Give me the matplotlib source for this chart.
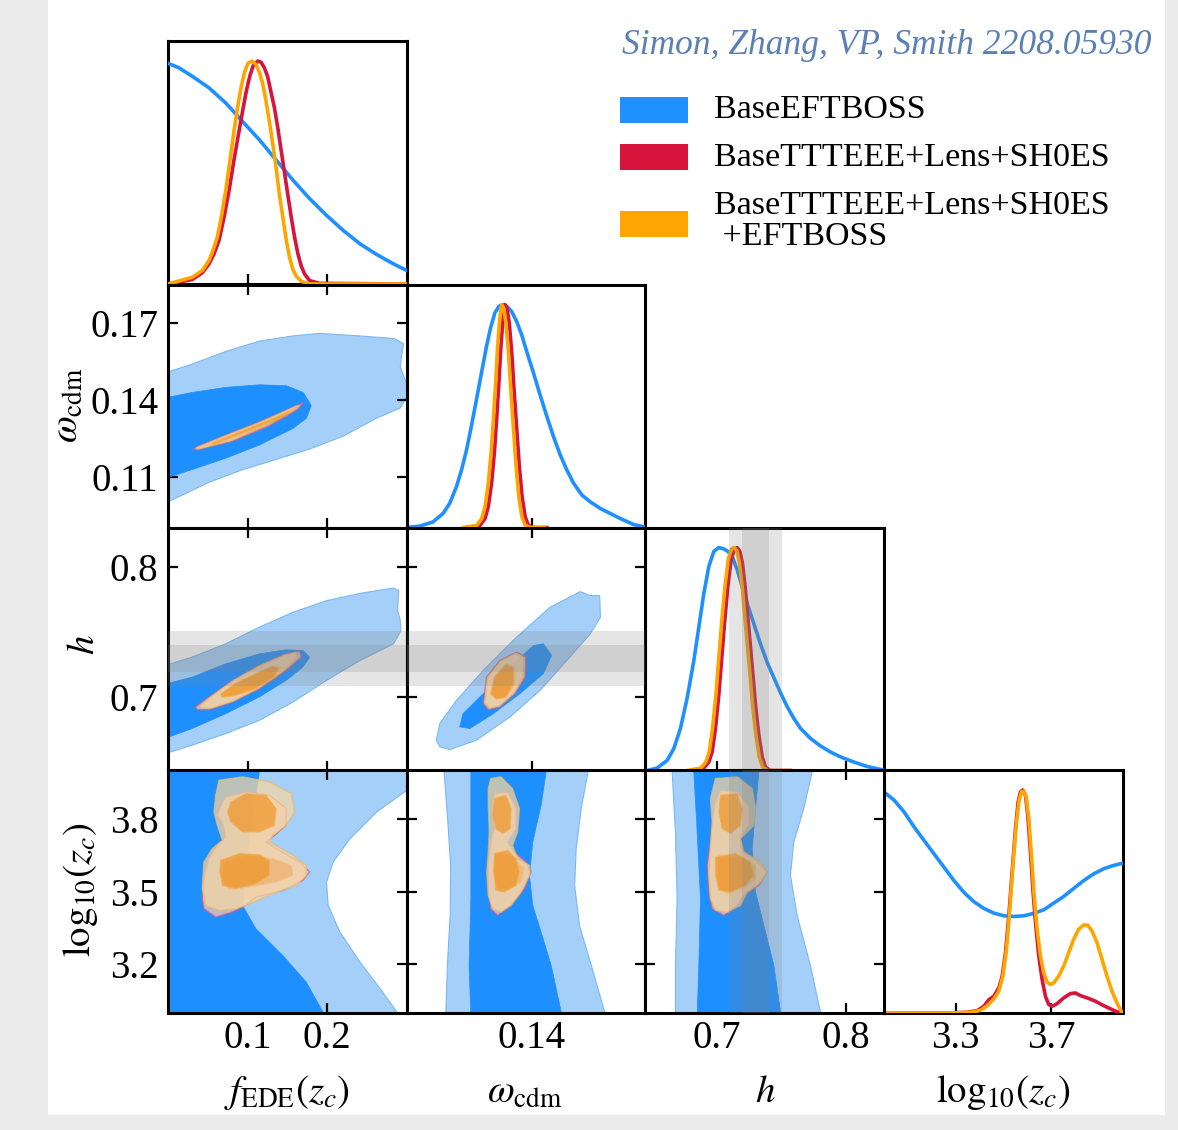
import matplotlib
matplotlib.use('Agg')
import matplotlib.pyplot as plt
from matplotlib.patches import Rectangle

plt.rcParams['font.family'] = 'Liberation Serif'
plt.rcParams['mathtext.fontset'] = 'stix'

# ---------------- data ----------------
names = ['fede', 'wcdm', 'h', 'zc']
axis_labels = [r'$f_{\rm EDE}(z_c)$', r'$\omega_{\rm cdm}$', r'$h$', r'$\mathrm{log}_{10}(z_c)$']
limits = [(0.0, 0.3), (0.0905, 0.185), (0.644, 0.83), (3.0, 4.0)]
xtick_vals = [[0.1, 0.2], [0.14], [0.7, 0.8], [3.3, 3.7]]
xtick_txt = [['0.1', '0.2'], ['0.14'], ['0.7', '0.8'], ['3.3', '3.7']]
ytick_vals = [[], [0.11, 0.14, 0.17], [0.7, 0.8], [3.2, 3.5, 3.8]]
ytick_txt = [[], ['0.11', '0.14', '0.17'], ['0.7', '0.8'], ['3.2', '3.5', '3.8']]

legend_labels = ['BaseEFTBOSS', 'BaseTTTEEE+Lens+SH0ES', 'BaseTTTEEE+Lens+SH0ES\n +EFTBOSS']
credit = 'Simon, Zhang, VP, Smith 2208.05930'

# SH0ES prior on h (mean, 1 sigma)
shoes_h = 0.7298
shoes_sig = 0.0104

# 1D marginals (x, normalised density)
fede_blue = [(0.0, 0.99), (0.0135, 0.97), (0.0304, 0.932), (0.0515, 0.88), (0.0726, 0.812), (0.0937, 0.729),
             (0.1148, 0.647), (0.1359, 0.556), (0.157, 0.466), (0.178, 0.383), (0.1992, 0.308),
             (0.2203, 0.24), (0.2414, 0.18), (0.2624, 0.132), (0.2835, 0.09), (0.3004, 0.06)]
fede_red = [(0.0, 0.0), (0.0304, 0.02), (0.043, 0.05), (0.0515, 0.09), (0.0578, 0.135), (0.0641, 0.195),
            (0.0705, 0.30), (0.0768, 0.42), (0.0831, 0.56), (0.0895, 0.69), (0.0945, 0.79), (0.0987, 0.87),
            (0.103, 0.935), (0.1072, 0.98), (0.1127, 1.0), (0.1169, 0.995), (0.1211, 0.97), (0.1253, 0.93),
            (0.1295, 0.86), (0.1338, 0.79), (0.138, 0.70), (0.1422, 0.60), (0.1464, 0.50), (0.1506, 0.40),
            (0.1549, 0.30), (0.1591, 0.21), (0.1633, 0.135), (0.1675, 0.08), (0.1717, 0.045),
            (0.178, 0.015), (0.1907, 0.003), (0.3, 0.0)]
fede_orange = [(0.0, 0.0), (0.0304, 0.03), (0.043, 0.06), (0.0515, 0.105), (0.0565, 0.15), (0.062, 0.21),
               (0.0675, 0.31), (0.0726, 0.42), (0.0781, 0.56), (0.0831, 0.69), (0.0878, 0.80), (0.092, 0.885),
               (0.0962, 0.95), (0.1004, 0.99), (0.1055, 1.0), (0.1105, 0.985), (0.1148, 0.95), (0.119, 0.90),
               (0.1232, 0.82), (0.1274, 0.73), (0.1316, 0.63), (0.1359, 0.52), (0.1401, 0.40),
               (0.1443, 0.30), (0.1485, 0.20), (0.1527, 0.12), (0.157, 0.065), (0.1612, 0.035),
               (0.1675, 0.012), (0.178, 0.0), (0.3, 0.0)]

wcdm_blue = [(0.0903, 0.0), (0.0956, 0.006), (0.1009, 0.025), (0.1049, 0.063), (0.1075, 0.108),
             (0.1102, 0.183), (0.1122, 0.258), (0.1142, 0.348), (0.1162, 0.46), (0.1181, 0.573),
             (0.1201, 0.693), (0.1221, 0.813), (0.1237, 0.895), (0.1254, 0.963), (0.1271, 0.993),
             (0.1287, 1.0), (0.1303, 0.99), (0.132, 0.97), (0.134, 0.925), (0.136, 0.865), (0.138, 0.79),
             (0.1407, 0.693), (0.1433, 0.595), (0.146, 0.498), (0.1486, 0.408), (0.1513, 0.325),
             (0.1539, 0.258), (0.1566, 0.198), (0.1599, 0.145), (0.1632, 0.115), (0.1672, 0.085),
             (0.1711, 0.063), (0.1751, 0.04), (0.1804, 0.013), (0.1857, 0.0)]
wcdm_red = [(0.1142, 0.0), (0.1195, 0.009), (0.1215, 0.04), (0.1228, 0.093), (0.1241, 0.198),
            (0.1252, 0.333), (0.1261, 0.483), (0.127, 0.648), (0.1278, 0.813), (0.1286, 0.933),
            (0.1294, 1.0), (0.1302, 0.985), (0.1311, 0.918), (0.1321, 0.783), (0.133, 0.618), (0.134, 0.453),
            (0.1351, 0.273), (0.1362, 0.138), (0.1374, 0.048), (0.1387, 0.01), (0.1407, 0.0), (0.146, 0.0)]
wcdm_orange = [(0.1129, 0.0), (0.1182, 0.009), (0.1202, 0.04), (0.1215, 0.093), (0.1228, 0.198),
               (0.1239, 0.333), (0.1248, 0.483), (0.1257, 0.648), (0.1265, 0.813), (0.1273, 0.933),
               (0.1281, 1.0), (0.1289, 0.985), (0.1298, 0.918), (0.1308, 0.783), (0.1317, 0.618),
               (0.1327, 0.453), (0.1338, 0.273), (0.1349, 0.138), (0.1361, 0.048), (0.1374, 0.01),
               (0.1394, 0.0), (0.145, 0.0)]

h_blue = [(0.6455, 0.0), (0.6532, 0.011), (0.661, 0.045), (0.6662, 0.098), (0.6714, 0.189), (0.6766, 0.325),
          (0.6818, 0.492), (0.6857, 0.643), (0.6896, 0.794), (0.6935, 0.915), (0.6974, 0.983),
          (0.7013, 1.0), (0.7052, 0.994), (0.7083, 0.983), (0.7117, 0.961), (0.7156, 0.90), (0.7195, 0.824),
          (0.7234, 0.749), (0.7286, 0.658), (0.7338, 0.567), (0.739, 0.484), (0.7442, 0.416),
          (0.7494, 0.348), (0.7545, 0.287), (0.7597, 0.234), (0.7649, 0.189), (0.7727, 0.144),
          (0.7805, 0.11), (0.7883, 0.083), (0.7961, 0.061), (0.8065, 0.038), (0.8169, 0.018),
          (0.8273, 0.005), (0.8312, 0.0)]
h_red = [(0.6792, 0.0), (0.6896, 0.011), (0.6935, 0.038), (0.6961, 0.083), (0.6987, 0.189), (0.7013, 0.34),
         (0.7034, 0.492), (0.7057, 0.658), (0.7083, 0.824), (0.7109, 0.946), (0.7135, 0.994), (0.7156, 1.0),
         (0.7177, 0.983), (0.7197, 0.93), (0.7218, 0.824), (0.7239, 0.688), (0.726, 0.552), (0.7281, 0.416),
         (0.7301, 0.28), (0.7325, 0.159), (0.7351, 0.061), (0.7377, 0.015), (0.7416, 0.0), (0.7571, 0.0)]
h_orange = [(0.6769, 0.0), (0.6873, 0.011), (0.6912, 0.038), (0.6938, 0.083), (0.6964, 0.189),
            (0.699, 0.34), (0.7011, 0.492), (0.7034, 0.658), (0.706, 0.824), (0.7086, 0.946),
            (0.7112, 0.994), (0.7133, 1.0), (0.7154, 0.983), (0.7174, 0.93), (0.7195, 0.824),
            (0.7216, 0.688), (0.7237, 0.552), (0.7258, 0.416), (0.7278, 0.28), (0.7302, 0.159),
            (0.7328, 0.061), (0.7354, 0.015), (0.7393, 0.0), (0.755, 0.0)]

zc_blue = [(3.0, 0.99), (3.0073, 0.985), (3.0422, 0.955), (3.084, 0.902), (3.1258, 0.835), (3.1676, 0.774),
           (3.2094, 0.714), (3.2512, 0.654), (3.293, 0.594), (3.3348, 0.541), (3.3767, 0.499),
           (3.4185, 0.469), (3.4603, 0.448), (3.5021, 0.436), (3.5439, 0.433), (3.5857, 0.436),
           (3.6275, 0.447), (3.6693, 0.463), (3.7111, 0.493), (3.753, 0.523), (3.7948, 0.559),
           (3.8366, 0.594), (3.8784, 0.624), (3.9202, 0.647), (3.962, 0.662), (4.0, 0.672)]
zc_red = [(3.0, 0.0), (3.2652, 0.0), (3.3488, 0.003), (3.3906, 0.011), (3.4185, 0.03), (3.4394, 0.06),
          (3.4603, 0.075), (3.4812, 0.113), (3.4951, 0.165), (3.5091, 0.271), (3.523, 0.436),
          (3.5369, 0.632), (3.5509, 0.827), (3.562, 0.947), (3.5718, 0.992), (3.5815, 1.0), (3.5927, 0.977),
          (3.6024, 0.887), (3.6136, 0.722), (3.6247, 0.541), (3.6359, 0.391), (3.6484, 0.256),
          (3.6624, 0.15), (3.6763, 0.075), (3.6902, 0.038), (3.7042, 0.03), (3.7251, 0.042),
          (3.753, 0.068), (3.7808, 0.087), (3.8017, 0.09), (3.8226, 0.078), (3.8505, 0.068),
          (3.8854, 0.053), (3.9202, 0.033), (3.962, 0.012), (3.9899, 0.0), (4.0, 0.0)]
zc_orange = [(3.0, 0.0), (3.2652, 0.0), (3.3627, 0.003), (3.4045, 0.012), (3.4324, 0.033), (3.4603, 0.063),
             (3.4812, 0.098), (3.4979, 0.165), (3.5132, 0.286), (3.5272, 0.466), (3.5411, 0.677),
             (3.555, 0.857), (3.5662, 0.955), (3.576, 0.992), (3.5857, 0.995), (3.5955, 0.97),
             (3.6066, 0.872), (3.6178, 0.707), (3.6289, 0.526), (3.6415, 0.376), (3.6554, 0.256),
             (3.6693, 0.18), (3.6833, 0.138), (3.6972, 0.128), (3.7111, 0.135), (3.732, 0.165),
             (3.753, 0.211), (3.7739, 0.271), (3.7948, 0.331), (3.8157, 0.376), (3.8366, 0.395),
             (3.8533, 0.394), (3.8714, 0.368), (3.8923, 0.316), (3.9132, 0.241), (3.9341, 0.165),
             (3.955, 0.098), (3.9759, 0.045), (3.9969, 0.003)]

# 2D contour outlines (x, y) -- 95% ("2") and 68% ("1") regions
fw_blue2 = [(-0.01, 0.150), (0.030, 0.154), (0.073, 0.159), (0.115, 0.163), (0.157, 0.165), (0.191, 0.166),
            (0.241, 0.165), (0.284, 0.164), (0.296, 0.162), (0.293, 0.156), (0.292, 0.153), (0.298, 0.148),
            (0.305, 0.144), (0.292, 0.137), (0.262, 0.133), (0.220, 0.126), (0.178, 0.121), (0.136, 0.117),
            (0.094, 0.113), (0.051, 0.108), (-0.01, 0.099)]
fw_blue1 = [(-0.01, 0.1405), (0.030, 0.143), (0.073, 0.145), (0.115, 0.146), (0.149, 0.1456), (0.170, 0.143),
            (0.180, 0.138), (0.174, 0.133), (0.157, 0.129), (0.115, 0.1226), (0.073, 0.1175), (0.030, 0.113),
            (-0.01, 0.109)]
fw_red2 = [(0.0325, 0.1213), (0.0726, 0.1264), (0.1148, 0.1315), (0.157, 0.1373), (0.170, 0.139),
           (0.163, 0.1364), (0.127, 0.130), (0.081, 0.124), (0.0346, 0.1206)]
fw_red1 = [(0.047, 0.1226), (0.0937, 0.1283), (0.140, 0.134), (0.161, 0.1373), (0.149, 0.134),
           (0.102, 0.1274), (0.0515, 0.1223)]
fw_orange2 = [(0.036, 0.1216), (0.075, 0.1265), (0.115, 0.1313), (0.152, 0.1364), (0.163, 0.138),
              (0.156, 0.1358), (0.122, 0.1302), (0.080, 0.1245), (0.038, 0.121)]
fw_orange1 = [(0.055, 0.1232), (0.095, 0.1282), (0.135, 0.1333), (0.152, 0.1357), (0.14, 0.1330),
              (0.1, 0.128), (0.058, 0.1228)]

fh_blue2 = [(-0.01, 0.7232), (0.0304, 0.7308), (0.0726, 0.741), (0.1148, 0.7537), (0.157, 0.7651),
            (0.1992, 0.774), (0.2414, 0.7796), (0.2835, 0.7837), (0.2899, 0.7817), (0.2886, 0.7664),
            (0.292, 0.7588), (0.2928, 0.7511), (0.2835, 0.741), (0.2414, 0.7282), (0.1992, 0.713),
            (0.157, 0.6964), (0.1148, 0.6824), (0.0726, 0.6723), (0.0304, 0.6634), (-0.01, 0.6557)]
fh_blue1 = [(-0.01, 0.7092), (0.0304, 0.7155), (0.0726, 0.7257), (0.1148, 0.7333), (0.1485, 0.7364),
            (0.1696, 0.7359), (0.178, 0.7308), (0.1696, 0.7232), (0.1485, 0.713), (0.1148, 0.7003),
            (0.0726, 0.6875), (0.0304, 0.6761), (-0.01, 0.6672)]
fh_red2 = [(0.0346, 0.6926), (0.0515, 0.7003), (0.081, 0.713), (0.1148, 0.7244), (0.1485, 0.7333),
           (0.1654, 0.7354), (0.1675, 0.7308), (0.1485, 0.7206), (0.1148, 0.7066), (0.081, 0.6964),
           (0.0515, 0.6906), (0.0367, 0.6906)]
fh_red1 = [(0.0684, 0.7028), (0.0852, 0.7104), (0.1105, 0.7181), (0.1338, 0.7244), (0.1422, 0.7232),
           (0.1359, 0.7155), (0.1105, 0.7066), (0.0852, 0.7015), (0.0705, 0.7003)]
fh_orange2 = [(0.040, 0.6935), (0.055, 0.7008), (0.082, 0.7128), (0.114, 0.7238), (0.146, 0.7323),
              (0.161, 0.7343), (0.162, 0.7305), (0.146, 0.7208), (0.114, 0.7072), (0.082, 0.6972),
              (0.055, 0.6918), (0.042, 0.6918)]
fh_orange1 = [(0.066, 0.7025), (0.083, 0.7100), (0.108, 0.7176), (0.131, 0.7238), (0.139, 0.7226),
              (0.133, 0.7150), (0.108, 0.7062), (0.083, 0.7012), (0.068, 0.7000)]

wh_blue2 = [(0.1022, 0.6672), (0.1036, 0.6799), (0.1102, 0.6977), (0.1208, 0.7206), (0.134, 0.7461),
            (0.1473, 0.769), (0.1592, 0.7809), (0.1632, 0.7779), (0.1669, 0.7779), (0.1672, 0.7613),
            (0.1632, 0.7486), (0.1539, 0.7282), (0.1433, 0.7053), (0.1314, 0.685), (0.1181, 0.6672),
            (0.1075, 0.66), (0.1036, 0.6621)]
wh_blue1 = [(0.1115, 0.6774), (0.1128, 0.6875), (0.1221, 0.7053), (0.1314, 0.7232), (0.1407, 0.7397),
            (0.1446, 0.741), (0.1479, 0.7321), (0.1446, 0.7181), (0.1353, 0.7028), (0.1248, 0.6875),
            (0.1155, 0.6761)]
wh_red2 = [(0.1208, 0.6952), (0.1221, 0.7155), (0.1274, 0.7282), (0.134, 0.7346), (0.1377, 0.7308),
           (0.1374, 0.7155), (0.1334, 0.7028), (0.1274, 0.6926), (0.1228, 0.6906)]
wh_red1 = [(0.1241, 0.7028), (0.1254, 0.7155), (0.1301, 0.7257), (0.1334, 0.7232), (0.1334, 0.7104),
           (0.1301, 0.7003), (0.1261, 0.699)]
wh_orange2 = [(0.1215, 0.6960), (0.1226, 0.7150), (0.1275, 0.7272), (0.1335, 0.7335), (0.1368, 0.7300),
              (0.1366, 0.7155), (0.1328, 0.7032), (0.1272, 0.6936), (0.1232, 0.6918)]
wh_orange1 = [(0.1238, 0.7025), (0.1250, 0.7150), (0.1296, 0.7250), (0.1328, 0.7226), (0.1328, 0.7100),
              (0.1296, 0.7000), (0.1258, 0.6988)]

fz_blue2 = [(-0.01, 4.01), (0.31, 4.01), (0.31, 3.9168), (0.3004, 3.9168), (0.2624, 3.8275), (0.2287, 3.717),
            (0.2076, 3.6214), (0.1992, 3.539), (0.2013, 3.443), (0.216, 3.333), (0.2414, 3.209),
            (0.2667, 3.0995), (0.2878, 3.0033), (0.29, 2.99), (-0.01, 2.99)]
fz_blue1 = [(-0.01, 4.01), (0.1148, 4.01), (0.1148, 3.992), (0.1063, 3.8137), (0.0979, 3.6077),
            (0.0937, 3.4429), (0.1105, 3.3467), (0.1443, 3.2368), (0.1738, 3.1269), (0.1949, 3.0033),
            (0.196, 2.99), (-0.01, 2.99)]
fz_red2 = [(0.0726, 3.8893), (0.0979, 3.9099), (0.1274, 3.8962), (0.1485, 3.8412), (0.1485, 3.7725),
           (0.1316, 3.7245), (0.1232, 3.7038), (0.1359, 3.6764), (0.1654, 3.6214), (0.178, 3.5802),
           (0.1696, 3.5459), (0.1443, 3.5047), (0.1105, 3.4772), (0.0979, 3.4429), (0.081, 3.4154),
           (0.0599, 3.3948), (0.0451, 3.4291), (0.043, 3.4703), (0.0451, 3.5527), (0.0515, 3.6352),
           (0.062, 3.6901), (0.0726, 3.7245), (0.0684, 3.7863), (0.062, 3.8137), (0.0684, 3.8687)]
fz_red1 = [(0.0726, 3.6214), (0.0979, 3.6489), (0.1316, 3.6352), (0.1549, 3.6077), (0.157, 3.5665),
           (0.1359, 3.539), (0.1021, 3.5184), (0.0768, 3.5088), (0.0684, 3.5459), (0.0692, 3.594)]
fz_orange2 = [(0.0641, 3.958), (0.0937, 3.9717), (0.1274, 3.9511), (0.1549, 3.903), (0.1591, 3.8275),
              (0.1485, 3.7725), (0.1316, 3.7313), (0.1274, 3.7038), (0.157, 3.6489), (0.1738, 3.6077),
              (0.1738, 3.5665), (0.1612, 3.5253), (0.1316, 3.4909), (0.0979, 3.4429), (0.0852, 3.4291),
              (0.0641, 3.4223), (0.0473, 3.4429), (0.043, 3.5115), (0.0451, 3.6214), (0.0557, 3.6764),
              (0.0684, 3.7107), (0.062, 3.7725), (0.0578, 3.8275), (0.0599, 3.8962)]
fz_orange1a = [(0.0789, 3.8687), (0.0979, 3.903), (0.1232, 3.8962), (0.1359, 3.8412), (0.1338, 3.7725),
               (0.1148, 3.7451), (0.0937, 3.7451), (0.0789, 3.7863), (0.0747, 3.8275)]
fz_orange1b = [(0.0662, 3.6283), (0.0895, 3.6558), (0.1148, 3.6516), (0.1274, 3.6283), (0.1274, 3.5665),
               (0.1105, 3.5321), (0.0852, 3.5115), (0.0684, 3.5253), (0.065, 3.5802)]

wz_blue2 = [(0.1053, 4.01), (0.1053, 3.9923), (0.1066, 3.8137), (0.1079, 3.6077), (0.1077, 3.4016),
            (0.1066, 3.1956), (0.106, 3.0033), (0.106, 2.99), (0.1689, 2.99), (0.1689, 3.0033),
            (0.1636, 3.1956), (0.1589, 3.3604), (0.157, 3.5253), (0.1576, 3.6764), (0.1596, 3.8412),
            (0.1623, 3.9923), (0.1623, 4.01)]
wz_blue1 = [(0.1159, 4.01), (0.1159, 3.7451), (0.1159, 3.4703), (0.1152, 3.1956), (0.1159, 2.99),
            (0.1517, 2.99), (0.1517, 3.0033), (0.1477, 3.1956), (0.1437, 3.333), (0.1404, 3.4429),
            (0.1391, 3.5665), (0.1404, 3.7038), (0.1437, 3.8549), (0.1457, 3.9923), (0.1457, 4.01)]
wz_red2 = [(0.1252, 3.903), (0.1305, 3.9099), (0.1338, 3.8412), (0.1338, 3.7588), (0.1305, 3.7038),
           (0.1331, 3.6626), (0.1377, 3.6214), (0.1397, 3.5802), (0.1371, 3.5115), (0.1318, 3.4429),
           (0.1265, 3.4016), (0.1238, 3.4291), (0.1228, 3.4978), (0.1228, 3.6077), (0.1238, 3.7038),
           (0.1252, 3.7588), (0.1245, 3.8412)]
wz_red1 = [(0.1258, 3.6626), (0.1318, 3.6489), (0.1371, 3.594), (0.1358, 3.539), (0.1305, 3.5047),
           (0.1265, 3.5115), (0.1252, 3.5802)]
wz_orange2 = [(0.1238, 3.9648), (0.1278, 3.9717), (0.1324, 3.9236), (0.1351, 3.8412), (0.1344, 3.7451),
              (0.1324, 3.6901), (0.1344, 3.6352), (0.1391, 3.6077), (0.1391, 3.5665), (0.1358, 3.4978),
              (0.1318, 3.4429), (0.1278, 3.4154), (0.1245, 3.4291), (0.1228, 3.4841), (0.1222, 3.5802),
              (0.1228, 3.6626), (0.1232, 3.7451), (0.1228, 3.8549), (0.1228, 3.9236)]
wz_orange1a = [(0.1252, 3.8824), (0.1298, 3.8962), (0.1318, 3.8412), (0.1315, 3.7588), (0.1285, 3.7382),
               (0.1258, 3.7588), (0.1245, 3.8137)]
wz_orange1b = [(0.1252, 3.6558), (0.1305, 3.6695), (0.1338, 3.6352), (0.1351, 3.5802), (0.1338, 3.5253),
               (0.1291, 3.4978), (0.1258, 3.5047), (0.1249, 3.5802)]

hz_blue2 = [(0.6649, 4.01), (0.6649, 3.9923), (0.6675, 3.7451), (0.6688, 3.4703), (0.6675, 3.1956),
            (0.6675, 2.99), (0.7805, 2.99), (0.7805, 3.0033), (0.7727, 3.1956), (0.7623, 3.4016),
            (0.7571, 3.5665), (0.7597, 3.7038), (0.7675, 3.8412), (0.774, 3.9923), (0.774, 4.01)]
hz_blue1 = [(0.6818, 4.01), (0.6818, 3.9923), (0.6844, 3.7451), (0.687, 3.4703), (0.6857, 3.1956),
            (0.6844, 2.99), (0.7494, 2.99), (0.7494, 3.0033), (0.7442, 3.1956), (0.7364, 3.3604),
            (0.7299, 3.4978), (0.7273, 3.6764), (0.7299, 3.8412), (0.7325, 3.9923), (0.7325, 4.01)]
hz_red2 = [(0.7026, 3.9168), (0.7156, 3.9099), (0.7247, 3.8481), (0.7247, 3.7725), (0.7182, 3.7245),
           (0.7182, 3.6764), (0.7286, 3.6352), (0.739, 3.5802), (0.7325, 3.5253), (0.7208, 3.4841),
           (0.713, 3.4291), (0.7052, 3.4016), (0.6961, 3.4291), (0.6935, 3.4978), (0.6922, 3.6077),
           (0.6948, 3.7038), (0.6961, 3.7863), (0.6987, 3.8687)]
hz_red1 = [(0.7013, 3.6489), (0.7182, 3.6421), (0.7299, 3.6077), (0.7299, 3.5527), (0.7208, 3.5115),
           (0.7078, 3.4909), (0.7013, 3.5115), (0.7, 3.5802)]
hz_orange2 = [(0.6987, 3.9648), (0.7156, 3.9717), (0.7273, 3.9236), (0.7299, 3.8412), (0.7286, 3.7725),
              (0.7182, 3.7176), (0.7208, 3.6626), (0.7338, 3.6214), (0.739, 3.5802), (0.7338, 3.539),
              (0.7234, 3.4978), (0.7182, 3.4429), (0.7078, 3.4154), (0.6987, 3.4223), (0.6948, 3.4703),
              (0.6935, 3.5802), (0.6948, 3.6901), (0.6961, 3.7863), (0.6948, 3.8824)]
hz_orange1a = [(0.7026, 3.8962), (0.7156, 3.903), (0.7195, 3.8412), (0.7182, 3.7725), (0.7104, 3.7382),
               (0.7039, 3.7588), (0.7013, 3.8275)]
hz_orange1b = [(0.6987, 3.6421), (0.7143, 3.6558), (0.726, 3.6214), (0.7286, 3.5665), (0.7221, 3.5253),
               (0.7104, 3.4978), (0.7013, 3.5047), (0.6987, 3.5665)]

# ---------------- styles ----------------
line_colors = {'blue': '#1e90ff', 'red': '#d7143c', 'orange': '#ffa500'}
fill_style = {
    'blue2': dict(facecolor='#a3cff8', edgecolor='#7cb9f2', linewidth=0.8, alpha=1.0, zorder=1),
    'blue1': dict(facecolor='#1e8fff', edgecolor='#1e8fff', linewidth=0.5, alpha=1.0, zorder=2),
    'red2': dict(facecolor='#f3c6bc', edgecolor='#cf5f86', linewidth=1.0, alpha=0.75, zorder=3),
    'red1': dict(facecolor='#d86e2a', edgecolor='#e08a60', linewidth=0.8, alpha=0.95, zorder=4),
    'orange2': dict(facecolor='#f7d6a0', edgecolor='#e9bd6c', linewidth=1.0, alpha=0.72, zorder=5),
    'orange1': dict(facecolor='#ef9628', edgecolor='#f0b050', linewidth=0.8, alpha=0.72, zorder=6),
}

W, H = 1178, 1130
fig = plt.figure(figsize=(W / 100, H / 100), dpi=100, facecolor='#ececec')
fig.patches.append(Rectangle((48 / W, 15 / H), (1165 - 48) / W, 1 - 15 / H, transform=fig.transFigure,
                             facecolor='white', edgecolor='none', zorder=-10))

col_left = [168, 406.7, 645.3, 884]
row_top = [41, 284.5, 527.5, 770]
pw, ph = 238.7, 243
tick_fs = 28


def make_ax(r, c):
    ax = fig.add_axes([col_left[c] / W, 1 - (row_top[r] + ph) / H, pw / W, ph / H])
    for s in ax.spines.values():
        s.set_linewidth(2.2)
    ax.set_xlim(*limits[c])
    ax.set_xticks(xtick_vals[c])
    if r == 3:
        ax.set_xticklabels(xtick_txt[c], fontsize=tick_fs)
    else:
        ax.set_xticklabels([])
    return ax


def fill(ax, pts, key):
    ax.fill([p[0] for p in pts], [p[1] for p in pts], **fill_style[key])


def line(ax, pts, key):
    ax.plot([p[0] for p in pts], [p[1] for p in pts], color=line_colors[key], lw=2.6, zorder=5,
            solid_joinstyle='round')


def shoes(ax, vertical):
    span = ax.axvspan if vertical else ax.axhspan
    span(shoes_h - 2 * shoes_sig, shoes_h + 2 * shoes_sig, color='#808080', alpha=0.2, lw=0, zorder=8)
    span(shoes_h - shoes_sig, shoes_h + shoes_sig, color='#808080', alpha=0.2, lw=0, zorder=8)


# 1D panels
oned = [(fede_blue, fede_red, fede_orange), (wcdm_blue, wcdm_red, wcdm_orange),
        (h_blue, h_red, h_orange), (zc_blue, zc_red, zc_orange)]
for i, (b, rd, o) in enumerate(oned):
    ax = make_ax(i, i)
    ax.set_ylim(0, 1.09)
    ax.set_yticks([])
    ax.tick_params(axis='x', direction='in', length=7, width=1.6, pad=5)
    if names[i] == 'h':
        shoes(ax, True)
    line(ax, b, 'blue')
    line(ax, rd, 'red')
    line(ax, o, 'orange')

# 2D panels: (row param, col param) -> contours
twod = {
    (1, 0): dict(blue2=[fw_blue2], blue1=[fw_blue1], red2=[fw_red2], red1=[fw_red1],
                 orange2=[fw_orange2], orange1=[fw_orange1]),
    (2, 0): dict(blue2=[fh_blue2], blue1=[fh_blue1], red2=[fh_red2], red1=[fh_red1],
                 orange2=[fh_orange2], orange1=[fh_orange1]),
    (2, 1): dict(blue2=[wh_blue2], blue1=[wh_blue1], red2=[wh_red2], red1=[wh_red1],
                 orange2=[wh_orange2], orange1=[wh_orange1]),
    (3, 0): dict(blue2=[fz_blue2], blue1=[fz_blue1], red2=[fz_red2], red1=[fz_red1],
                 orange2=[fz_orange2], orange1=[fz_orange1a, fz_orange1b]),
    (3, 1): dict(blue2=[wz_blue2], blue1=[wz_blue1], red2=[wz_red2], red1=[wz_red1],
                 orange2=[wz_orange2], orange1=[wz_orange1a, wz_orange1b]),
    (3, 2): dict(blue2=[hz_blue2], blue1=[hz_blue1], red2=[hz_red2], red1=[hz_red1],
                 orange2=[hz_orange2], orange1=[hz_orange1a, hz_orange1b]),
}
for (r, c), conts in twod.items():
    ax = make_ax(r, c)
    ax.set_ylim(*limits[r])
    ax.set_yticks(ytick_vals[r])
    if c == 0:
        ax.set_yticklabels(ytick_txt[r], fontsize=tick_fs)
    else:
        ax.set_yticklabels([])
    ax.tick_params(direction='in', length=7, width=1.6, top=True, right=True, pad=7)
    ax.tick_params(axis='x', pad=5)
    for key in ['blue2', 'blue1', 'red2', 'red1', 'orange2', 'orange1']:
        for pts in conts[key]:
            fill(ax, pts, key)
    if names[r] == 'h':
        shoes(ax, False)
    if names[c] == 'h':
        shoes(ax, True)

# axis labels
xlab_x = [287, 525, 765, 1003]
for i in range(4):
    fig.text(xlab_x[i] / W, 1 - 1093 / H, axis_labels[i], ha='center', va='center', fontsize=28)
ylab_pos = [(68, 405), (84, 645), (80, 890)]
for i, (x, y) in enumerate(ylab_pos):
    fig.text(x / W, 1 - y / H, axis_labels[i + 1], ha='center', va='center', rotation=90, fontsize=28)

# legend
leg_colors = [line_colors['blue'], line_colors['red'], line_colors['orange']]
leg_box_y = [110, 157, 224]
leg_text_y = [110, 158, 221]
for col, by, ty, lab in zip(leg_colors, leg_box_y, leg_text_y, legend_labels):
    fig.patches.append(Rectangle((620 / W, 1 - (by + 13) / H), 68 / W, 26 / H, transform=fig.transFigure,
                                 facecolor=col, edgecolor='none'))
    fig.text(714 / W, 1 - ty / H, lab, ha='left', va='center', fontsize=24.5, linespacing=1.0)

fig.text(1152 / W, 1 - 45 / H, credit, ha='right', va='center', style='italic', color='#5b80b4',
         fontsize=25.5)

fig.savefig('out.png', dpi=100, facecolor=fig.get_facecolor())
